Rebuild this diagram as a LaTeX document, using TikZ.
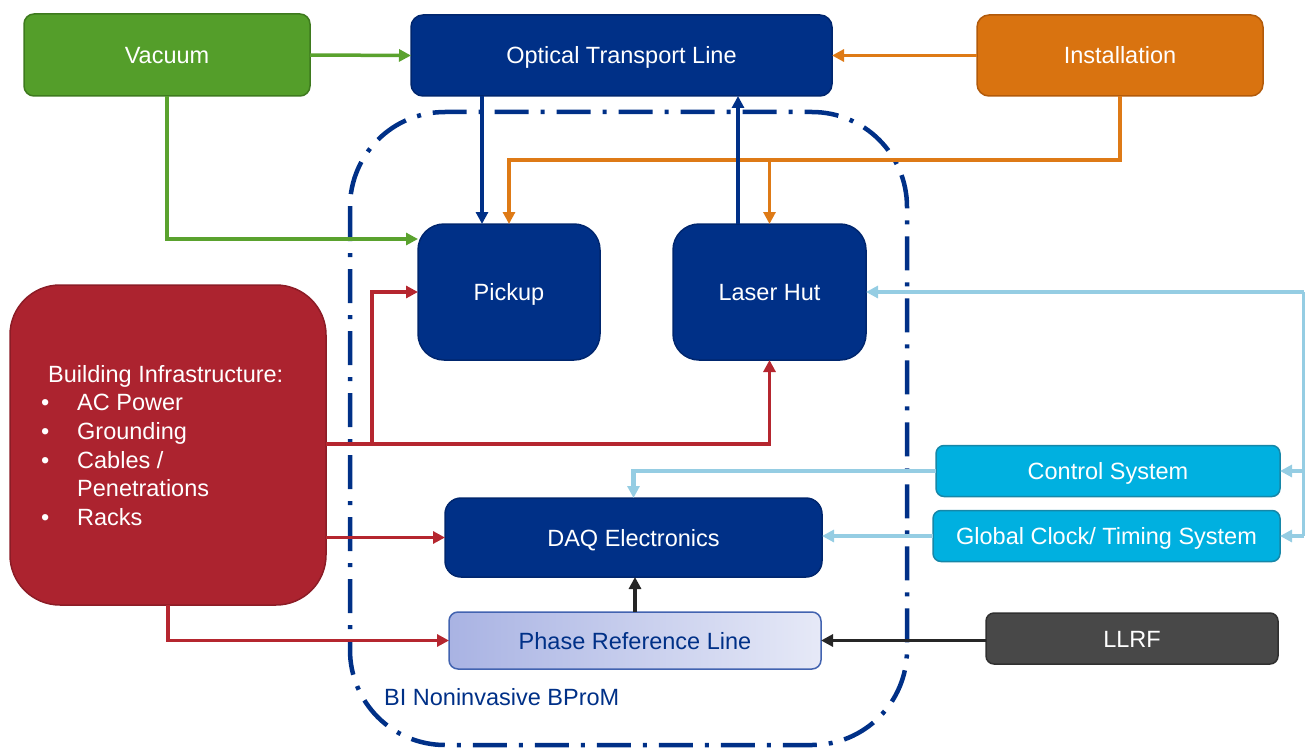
\documentclass[tikz,border=0pt]{standalone}
\usepackage{fontspec}
\setmainfont{Liberation Sans}
\usetikzlibrary{arrows.meta}

\definecolor{navy}{RGB}{0,48,135}
\definecolor{navyedge}{RGB}{0,38,110}
\definecolor{grnfill}{RGB}{84,158,42}
\definecolor{grnedge}{RGB}{62,122,30}
\definecolor{grnline}{RGB}{90,162,46}
\definecolor{orgfill}{RGB}{217,115,16}
\definecolor{orgedge}{RGB}{178,90,10}
\definecolor{orgline}{RGB}{222,122,22}
\definecolor{redfill}{RGB}{172,35,47}
\definecolor{rededge}{RGB}{140,28,38}
\definecolor{redline}{RGB}{181,38,47}
\definecolor{cyanfill}{RGB}{0,176,224}
\definecolor{cyanedge}{RGB}{22,135,168}
\definecolor{skyline}{RGB}{149,205,227}
\definecolor{llrffill}{RGB}{72,72,72}
\definecolor{llrfedge}{RGB}{48,48,48}
\definecolor{darkline}{RGB}{38,38,38}
\definecolor{phaseleft}{RGB}{169,179,227}
\definecolor{phaseright}{RGB}{230,233,247}
\definecolor{phaseedge}{RGB}{66,99,176}

\tikzset{
  base/.style={draw, line width=1.5pt, inner sep=0pt, outer sep=0pt,
    text=white, font=\fontsize{23.5}{28}\selectfont,
    text height=17pt, text depth=0pt},
  navybox/.style={base, fill=navy, draw=navyedge},
  grnbox/.style={base, fill=grnfill, draw=grnedge},
  orgbox/.style={base, fill=orgfill, draw=orgedge},
  redbox/.style={base, fill=redfill, draw=rededge},
  cyanbox/.style={base, fill=cyanfill, draw=cyanedge},
  llrfbox/.style={base, fill=llrffill, draw=llrfedge},
  phasebox/.style={base, left color=phaseleft, right color=phaseright,
    draw=phaseedge, text=navy},
  tip/.style={-{Triangle[length=12pt,width=12pt]}},
  link/.style={tip, line width=3.5pt},
  grn/.style={link, draw=grnline},
  org/.style={link, draw=orgline},
  nav/.style={link, draw=navy},
  rd/.style={link, draw=redline},
  sky/.style={link, draw=skyline, line width=4.5pt},
  skyplain/.style={draw=skyline, line width=4.5pt},
  blk/.style={link, draw=darkline},
  region/.style={draw=navy, line width=4.5pt,
    dash pattern=on 34pt off 12pt on 4pt off 12pt, rounded corners=95pt}
}

\begin{document}
\begin{tikzpicture}[x=1pt,y=-1pt]
\useasboundingbox (0,0) rectangle (1305,749);

% dash-dot boundary of the subsystem
\draw[region] (350,112) rectangle (907,745);
\node[anchor=west, text=navy, font=\fontsize{23.5}{28}\selectfont, inner sep=0pt,
  text height=17pt, text depth=0pt]
  (bpmlabel) at (384,697) {BI Noninvasive BProM};

% blocks
\node[grnbox, minimum width=286, minimum height=82, rounded corners=10pt]
  (vac) at (167,55) {Vacuum};
\node[navybox, minimum width=421, minimum height=81, rounded corners=12pt]
  (otl) at (621.5,55.5) {Optical Transport Line};
\node[orgbox, minimum width=286, minimum height=81, rounded corners=12pt]
  (inst) at (1120,55.5) {Installation};
\node[navybox, minimum width=182, minimum height=136, rounded corners=26pt]
  (pick) at (509,292) {Pickup};
\node[navybox, minimum width=193, minimum height=136, rounded corners=26pt]
  (lh) at (769.5,292) {Laser Hut};
\node[redbox, minimum width=316, minimum height=320, rounded corners=50pt]
  (bldg) at (168,445) {};
\node[anchor=north west, align=left, text=white, inner sep=0pt,
  font=\fontsize{23.5}{28.6}\selectfont] (bldgtext) at (37,365)
  {\hspace*{11pt}Building Infrastructure:\\
   \makebox[40pt][l]{\,•}AC Power\\
   \makebox[40pt][l]{\,•}Grounding\\
   \makebox[40pt][l]{\,•}Cables /\\
   \hspace*{40pt}Penetrations\\
   \makebox[40pt][l]{\,•}Racks};
\node[cyanbox, minimum width=344, minimum height=51, rounded corners=8pt]
  (ctrl) at (1108,471) {Control System};
\node[cyanbox, minimum width=347, minimum height=51, rounded corners=8pt]
  (glob) at (1106.5,536) {Global Clock/ Timing System};
\node[navybox, minimum width=377, minimum height=79, rounded corners=16pt]
  (daq) at (633.5,537.5) {DAQ Electronics};
\node[phasebox, minimum width=372, minimum height=57, rounded corners=9pt]
  (phase) at (635,640.5) {Phase Reference Line};
\node[llrfbox, minimum width=292, minimum height=51, rounded corners=8pt]
  (llrf) at (1132,638.5) {LLRF};

% helper points for the routed connectors
\coordinate (jO) at (509,160);
\coordinate (xA) at (482,0);
\coordinate (xB) at (738,0);
\coordinate (yG) at (0,239);
\coordinate (yR) at (0,444);
\coordinate (xR) at (372,444);
\coordinate (rt) at (1304,292);

% vacuum
\draw[grn] (vac.east) -- (otl.west);
\draw[grn] (vac.south) |- (pick.west |- yG);

% installation
\draw[org] (inst.west) -- (otl.east);
\draw[org] (inst.south) |- (jO) -- (jO |- pick.north);
\draw[org] (lh.north |- jO) -- (lh.north);

% optical transport line
\draw[nav] (xA |- otl.south) -- (xA |- pick.north);
\draw[nav] (xB |- lh.north) -- (xB |- otl.south);

% building infrastructure
\draw[rd] (bldg.east |- yR) -| (lh.south);
\draw[rd] (xR) |- (pick.west);
\draw[rd] (bldg.east |- daq.west) -- (daq.west);
\draw[rd] (bldg.south) |- (phase.west);

% timing and control
\draw[sky] (rt) -- (lh.east);
\draw[skyplain] (rt) -- (rt |- glob.east);
\draw[sky] (rt |- ctrl.east) -- (ctrl.east);
\draw[sky] (rt |- glob.east) -- (glob.east);
\draw[sky] (ctrl.west) -| (daq.north);
\draw[sky] (glob.west) -- (daq.east |- glob.west);

% reference line
\draw[blk] (llrf.west |- phase.east) -- (phase.east);
\draw[blk] (phase.north) -- (phase.north |- daq.south);
\end{tikzpicture}
\end{document}
